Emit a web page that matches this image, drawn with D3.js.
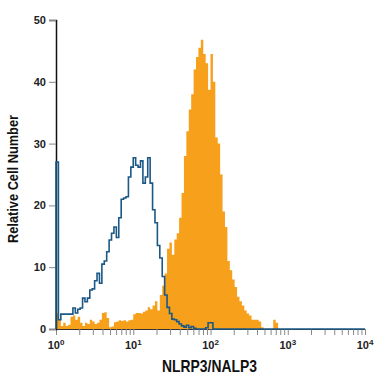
<!DOCTYPE html>
<html>
<head>
<meta charset="utf-8">
<script src="https://cdn.jsdelivr.net/npm/d3@7"></script>
<style>
  body { margin: 0; background: #fff; }
  text { font-family: "Liberation Sans Narrow", "Arial Narrow", "Liberation Sans", sans-serif; }
</style>
</head>
<body>
<div id="chart"></div>
<script>
// histogram channels: 32 bins per decade, 10^0 .. 10^4
var binsPerDecade = 32;

// isotype control (blue outline), one value per bin
var controlCounts = [
  27, 1.5, 2.4, 2.4, 2.4, 2.4, 2.4, 3.4, 2.6, 3.2,
  3.4, 5, 4.4, 5, 6.3, 6.5, 7.8, 9, 7.4, 10.5,
  11, 12.5, 14.4, 15.5, 16.5, 14.8, 18, 21, 21.2, 21.4,
  24.6, 26.2, 27.7, 26.5, 26.2, 27.2, 23.6, 24.6, 27.7, 23.6,
  19.3, 17.2, 13.5, 11.5, 8.5, 5.5, 3.5, 2.5, 1.6, 1.5,
  1.2, 0.8, 0.5, 0.3, 0.6, 0.2, 0.4, 0.1, 0, 0,
  0, 0, 0.2, 1, 1, 0, 0, 0, 0, 0
];

// NLRP3 stained cells (orange filled), one value per bin
var stainedCounts = [
  2.5, 1.5, 0.5, 1, 0.5, 0.7, 2, 2.2, 1.5, 2,
  1, 0.5, 1, 0.8, 1.5, 1.2, 0.8, 1, 1.5, 2.6,
  2.7, 1.8, 0.3, 0.4, 1.1, 1.2, 1.4, 1.3, 1.4, 1.2,
  1.4, 1.5, 2.4, 2.6, 2.6, 2.5, 2.8, 3, 3.5, 3.2,
  3.8, 4.5, 3, 5.5, 7, 9, 13, 14, 12, 14.5,
  15.5, 18, 22, 28, 32, 35.5, 38, 42, 44, 45.5,
  46.8, 44.5, 43, 38.7, 44.5, 40, 31, 30, 25, 19,
  16.5, 11, 9.5, 8, 6.8, 5.2, 4.5, 3.8, 3, 2.5,
  2.2, 1.5, 1.5, 1.5, 1.2, 0.3, 0, 0, 0, 0,
  1.5, 1, 0, 0, 0, 0, 0, 0, 0, 0
];

var yTicks = [0, 10, 20, 30, 40, 50];
var xDecades = [1, 10, 100, 1000, 10000];

var xTitle = "NLRP3/NALP3";
var yTitle = "Relative Cell Number";

var svgWidth = 375;
var svgHeight = 375;

var svg = d3.select("#chart")
  .append("svg")
  .attr("width", svgWidth)
  .attr("height", svgHeight);

var x = d3.scaleLog()
  .domain([1, 10000])
  .range([56, 365]);

var y = d3.scaleLinear()
  .domain([0, 50])
  .range([329, 20]);

// bin edge -> value pairs, with a closing point at the end
function toSteps(counts) {
  var pts = counts.map((v, i) => [Math.pow(10, i / binsPerDecade), v]);
  pts.push([Math.pow(10, counts.length / binsPerDecade), 0]);
  return pts;
}

var stainedPts = toSteps(stainedCounts);
var controlPts = [[1, 0]].concat(toSteps(controlCounts));
controlPts.push([10000, 0]);

// orange filled histogram
svg.append("path")
  .datum(stainedPts)
  .attr("fill", "#f7a01c")
  .attr("d", d3.area()
    .curve(d3.curveStepAfter)
    .x(d => x(d[0]))
    .y0(y(0))
    .y1(d => y(d[1])));

// x axis with log minor ticks
var minor = [];
for (var d = 1; d < 10000; d *= 10) {
  for (var k = 2; k <= 9; k++) minor.push(d * k);
}

var xAxis = svg.append("g")
  .attr("transform", `translate(0, ${y(0)})`)
  .call(d3.axisBottom(x)
    .tickValues(xDecades.concat(minor))
    .tickSize(6)
    .tickFormat(""));
xAxis.select(".domain").attr("stroke", "#333");
xAxis.selectAll(".tick line").attr("stroke", "#888");

var xLabels = svg.append("g")
  .selectAll("text")
  .data(xDecades)
  .enter()
  .append("text")
  .attr("x", d => x(d))
  .attr("y", 349)
  .attr("text-anchor", "middle")
  .attr("font-size", 11)
  .attr("font-weight", "bold")
  .attr("fill", "#222")
  .text("10");
xLabels.append("tspan")
  .attr("dy", "-0.45em")
  .attr("font-size", 8)
  .text(d => Math.round(Math.log10(d)));

// y axis
var yAxis = svg.append("g")
  .attr("transform", `translate(${x(1)}, 0)`)
  .call(d3.axisLeft(y).tickValues(yTicks).tickSize(7).tickPadding(3));
yAxis.select(".domain").attr("stroke", "#111").attr("stroke-width", 1.5);
yAxis.selectAll(".tick line").attr("stroke", "#888");
yAxis.selectAll(".tick text")
  .attr("font-size", 11)
  .attr("font-weight", "bold")
  .attr("fill", "#222")
  .style("font-family", "'Liberation Sans Narrow', 'Liberation Sans', sans-serif");

// blue control outline on top
svg.append("path")
  .datum(controlPts)
  .attr("fill", "none")
  .attr("stroke", "#1b5886")
  .attr("stroke-width", 1.6)
  .attr("d", d3.line()
    .curve(d3.curveStepAfter)
    .x(d => x(d[0]))
    .y(d => y(d[1])));

// axis titles (condensed to match the narrow face of the original)
svg.append("text")
  .attr("x", 209.5)
  .attr("y", 372)
  .attr("text-anchor", "middle")
  .attr("font-size", 17)
  .attr("font-weight", "bold")
  .attr("fill", "#111")
  .attr("textLength", 95)
  .attr("lengthAdjust", "spacingAndGlyphs")
  .text(xTitle);

svg.append("text")
  .attr("transform", "translate(18, 179) rotate(-90)")
  .attr("text-anchor", "middle")
  .attr("font-size", 15)
  .attr("font-weight", "bold")
  .attr("fill", "#111")
  .attr("textLength", 128)
  .attr("lengthAdjust", "spacingAndGlyphs")
  .text(yTitle);
</script>
</body>
</html>
